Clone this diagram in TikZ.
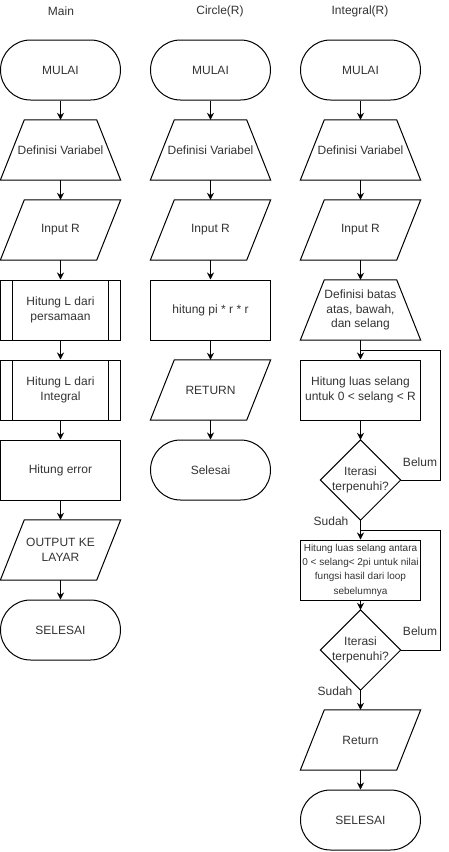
\documentclass[tikz,border=0pt]{standalone}
\usepackage{fontspec}
\setmainfont{Liberation Sans}
\usetikzlibrary{arrows.meta}
\definecolor{txt}{HTML}{333333}
\begin{document}
\begin{tikzpicture}[x=1pt,y=-1pt,
  line/.style={draw=black, line width=1pt},
  arr/.style={line, -{Stealth[length=7pt,width=7pt]}},
  base/.style={minimum width=120pt, minimum height=60pt, inner sep=0pt, align=center,
    font=\fontsize{12}{14.4}\selectfont, text=txt},
  title/.style={inner sep=0pt, font=\fontsize{12}{14.4}\selectfont, text=txt},
  lbl/.style={inner sep=0pt, font=\fontsize{12}{14.4}\selectfont, text=txt},
  term/.style={base, line, rounded corners=30pt},
  proc/.style={base, line},
  sub/.style={proc, path picture={
    \draw[line width=1pt]
      ([xshift=12pt]path picture bounding box.north west) -- ([xshift=12pt]path picture bounding box.south west)
      ([xshift=-12pt]path picture bounding box.north east) -- ([xshift=-12pt]path picture bounding box.south east);}},
  io/.style={base, append after command={\pgfextra{\let\flowshp\tikzlastnode
    \draw[line] (\flowshp.south west) -- ([xshift=24pt]\flowshp.north west)
      -- (\flowshp.north east) -- ([xshift=-24pt]\flowshp.south east) -- cycle;}}},
  trap/.style={base, append after command={\pgfextra{\let\flowshp\tikzlastnode
    \draw[line] (\flowshp.south west) -- ([xshift=24pt]\flowshp.north west)
      -- ([xshift=-24pt]\flowshp.north east) -- (\flowshp.south east) -- cycle;}}},
  dec/.style={base, minimum width=80pt, minimum height=80pt, append after command={\pgfextra{\let\flowshp\tikzlastnode
    \draw[line] (\flowshp.north) -- (\flowshp.east) -- (\flowshp.south) -- (\flowshp.west) -- cycle;}}},
]
\useasboundingbox (0,0) rectangle (449,852);

% column titles
\node[title] (tMain) at (61,11) {Main};
\node[title] (tCirc) at (220,11) {Circle(R)};
\node[title] (tInt) at (360,11) {Integral(R)};

% Main
\node[term] (a1) at (60.5,70) {MULAI};
\node[trap] (a2) at (60.5,150) {Definisi Variabel};
\node[io]   (a3) at (60.5,230) {Input R};
\node[sub]  (a4) at (60.5,310) {Hitung L dari\\persamaan};
\node[sub]  (a5) at (60.5,390) {Hitung L dari\\Integral};
\node[proc] (a6) at (60.5,470) {Hitung error};
\node[io]   (a7) at (60.5,550) {OUTPUT KE\\LAYAR};
\node[term] (a8) at (60.5,630) {SELESAI};
\foreach \p/\q in {a1/a2,a2/a3,a3/a4,a4/a5,a5/a6,a6/a7,a7/a8}
  \draw[arr] (\p.south) -- (\q.north);

% Circle(R)
\node[term] (b1) at (210.5,70) {MULAI};
\node[trap] (b2) at (210.5,150) {Definisi Variabel};
\node[io]   (b3) at (210.5,230) {Input R};
\node[proc] (b4) at (210.5,310) {hitung pi * r * r};
\node[io]   (b5) at (210.5,390) {RETURN};
\node[term] (b6) at (210.5,470) {Selesai};
\foreach \p/\q in {b1/b2,b2/b3,b3/b4,b4/b5,b5/b6}
  \draw[arr] (\p.south) -- (\q.north);

% Integral(R)
\node[term] (c1) at (360.5,70) {MULAI};
\node[trap] (c2) at (360.5,150) {Definisi Variabel};
\node[io]   (c3) at (360.5,230) {Input R};
\node[trap] (c4) at (360.5,310) {Definisi batas\\atas, bawah,\\dan selang};
\node[proc] (c5) at (360.5,390) {Hitung luas selang\\untuk 0 < selang < R};
\node[dec]  (c6) at (360.5,480) {Iterasi\\terpenuhi?};
\node[proc, font=\fontsize{10}{14.3}\selectfont] (c7) at (360.5,570)
  {Hitung luas selang antara\\0 < selang< 2pi untuk nilai\\fungsi hasil dari loop\\sebelumnya};
\node[dec]  (c8) at (360.5,650) {Iterasi\\terpenuhi?};
\node[io]   (c9) at (360.5,740) {Return};
\node[term] (c10) at (360.5,820) {SELESAI};
\foreach \p/\q in {c1/c2,c2/c3,c3/c4,c4/c5,c5/c6,c6/c7,c7/c8,c8/c9,c9/c10}
  \draw[arr] (\p.south) -- (\q.north);

% loop-back connectors
\coordinate (r1) at (440.5,350);
\coordinate (j1) at (360.5,350);
\coordinate (r2) at (440.5,530);
\coordinate (j2) at (360.5,530);
\draw[line] (c6.east) -| (r1) -- (j1);
\draw[line] (c8.east) -| (r2) -- (j2);

% branch labels
\node[lbl] (belum1) at (420,462) {Belum};
\node[lbl] (sudah1) at (331,521) {Sudah};
\node[lbl] (belum2) at (420,631) {Belum};
\node[lbl] (sudah2) at (335,691) {Sudah};
\end{tikzpicture}
\end{document}
